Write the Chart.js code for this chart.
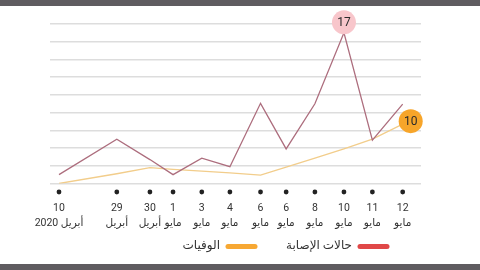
<!DOCTYPE html>
<html>
<head>
<meta charset="utf-8">
<script src="https://cdn.jsdelivr.net/npm/chart.js@4.4.1/dist/chart.umd.min.js"></script>
<style>
  html, body { margin: 0; padding: 0; background: #fff; }
  .bar { height: 6px; background: #5f5c60; }
  #wrap { position: relative; width: 480px; height: 258px; }
</style>
</head>
<body>
<div class="bar"></div>
<div id="wrap"><canvas id="chart"></canvas></div>
<div class="bar"></div>
<script>
// x slots (dates are not evenly spaced in the original)
const slots = [0, 1.85, 2.91, 3.65, 4.57, 5.47, 6.45, 7.27, 8.19, 9.12, 10.03, 11];
const days = ['10', '29', '30', '1', '3', '4', '6', '6', '8', '10', '11', '12'];
const months = ['أبريل 2020', 'أبريل', 'أبريل', 'مايو', 'مايو', 'مايو', 'مايو', 'مايو', 'مايو', 'مايو', 'مايو', 'مايو'];

const cases = [1, 5, 2.7, 1, 2.85, 1.9, 9.05, 3.9, 9, 17, 4.9, 8.95];
const deaths = [0, 1.1, 1.8, 1.6, 1.4, 1.2, 0.95, 1.85, 2.85, 3.9, 5, 6.7];

const seriesNames = ['حالات الإصابة', 'الوفيات'];
const calloutText = ['17', '10'];

const FONT = "Roboto, 'DejaVu Sans', sans-serif";

// dots under each date + round value badges + legend
const extras = {
  id: 'extras',
  afterDraw(chart) {
    const ctx = chart.ctx;
    const xs = chart.scales.x;
    const area = chart.chartArea;
    ctx.save();

    // dots
    ctx.fillStyle = '#222';
    xs.ticks.forEach(t => {
      ctx.beginPath();
      ctx.arc(xs.getPixelForValue(t.value), area.bottom + 8.5, 2.4, 0, Math.PI * 2);
      ctx.fill();
    });

    // badges
    const badges = [
      { ds: 0, i: 9, text: calloutText[0], bg: '#f8c6cb', dx: 0, dy: -10.5 },
      { ds: 1, i: 11, text: calloutText[1], bg: '#f7a52a', dx: 8, dy: -3 }
    ];
    badges.forEach(b => {
      const p = chart.getDatasetMeta(b.ds).data[b.i];
      const cx = p.x + b.dx, cy = p.y + b.dy;
      ctx.beginPath();
      ctx.arc(cx, cy, 12, 0, Math.PI * 2);
      ctx.fillStyle = b.bg;
      ctx.fill();
      ctx.fillStyle = '#2a2a2a';
      ctx.font = '12px ' + FONT;
      ctx.textAlign = 'center';
      ctx.textBaseline = 'middle';
      ctx.fillText(b.text, cx, cy + 0.5);
    });

    // legend (right to left)
    const legendY = 240.5;
    const items = [
      { label: seriesNames[0], color: '#e04848', right: 389 },
      { label: seriesNames[1], color: '#f7a833', right: 257 }
    ];
    ctx.font = '12px ' + FONT;
    ctx.textBaseline = 'middle';
    ctx.textAlign = 'right';
    items.forEach(it => {
      ctx.strokeStyle = it.color;
      ctx.lineWidth = 5;
      ctx.lineCap = 'round';
      ctx.beginPath();
      ctx.moveTo(it.right - 29, legendY);
      ctx.lineTo(it.right - 2, legendY);
      ctx.stroke();
      ctx.fillStyle = '#333';
      ctx.fillText(it.label, it.right - 37, legendY - 1);
    });
    ctx.restore();
  }
};

new Chart(document.getElementById('chart'), {
  type: 'line',
  data: {
    datasets: [
      {
        label: seriesNames[0],
        data: slots.map((x, i) => ({ x, y: cases[i] })),
        borderColor: '#ad6e7e',
        borderWidth: 1.3,
        pointRadius: 0,
        tension: 0
      },
      {
        label: seriesNames[1],
        data: slots.map((x, i) => ({ x, y: deaths[i] })),
        borderColor: '#f2cd8b',
        borderWidth: 1.3,
        pointRadius: 0,
        tension: 0
      }
    ]
  },
  options: {
    responsive: true,
    maintainAspectRatio: false,
    animation: false,
    layout: { padding: { left: 50, right: 59, top: 18, bottom: 30 } },
    plugins: {
      legend: { display: false },
      tooltip: { enabled: false }
    },
    scales: {
      x: {
        type: 'linear',
        min: -0.288,
        max: 11.586,
        grid: { display: false },
        border: { display: false },
        afterBuildTicks: axis => { axis.ticks = slots.map(v => ({ value: v })); },
        afterFit: axis => { axis.height = 50.5; },
        ticks: {
          autoSkip: false,
          maxRotation: 0,
          padding: 10,
          color: '#333',
          font: { family: FONT, size: 10.5, lineHeight: 1.36 },
          callback: (v, i) => [days[i], months[i]]
        }
      },
      y: {
        min: 0,
        max: 18,
        ticks: { display: false, stepSize: 2 },
        border: { display: false },
        grid: { color: '#dddddd', lineWidth: 1.6, drawTicks: false }
      }
    }
  },
  plugins: [extras]
});
</script>
</body>
</html>
